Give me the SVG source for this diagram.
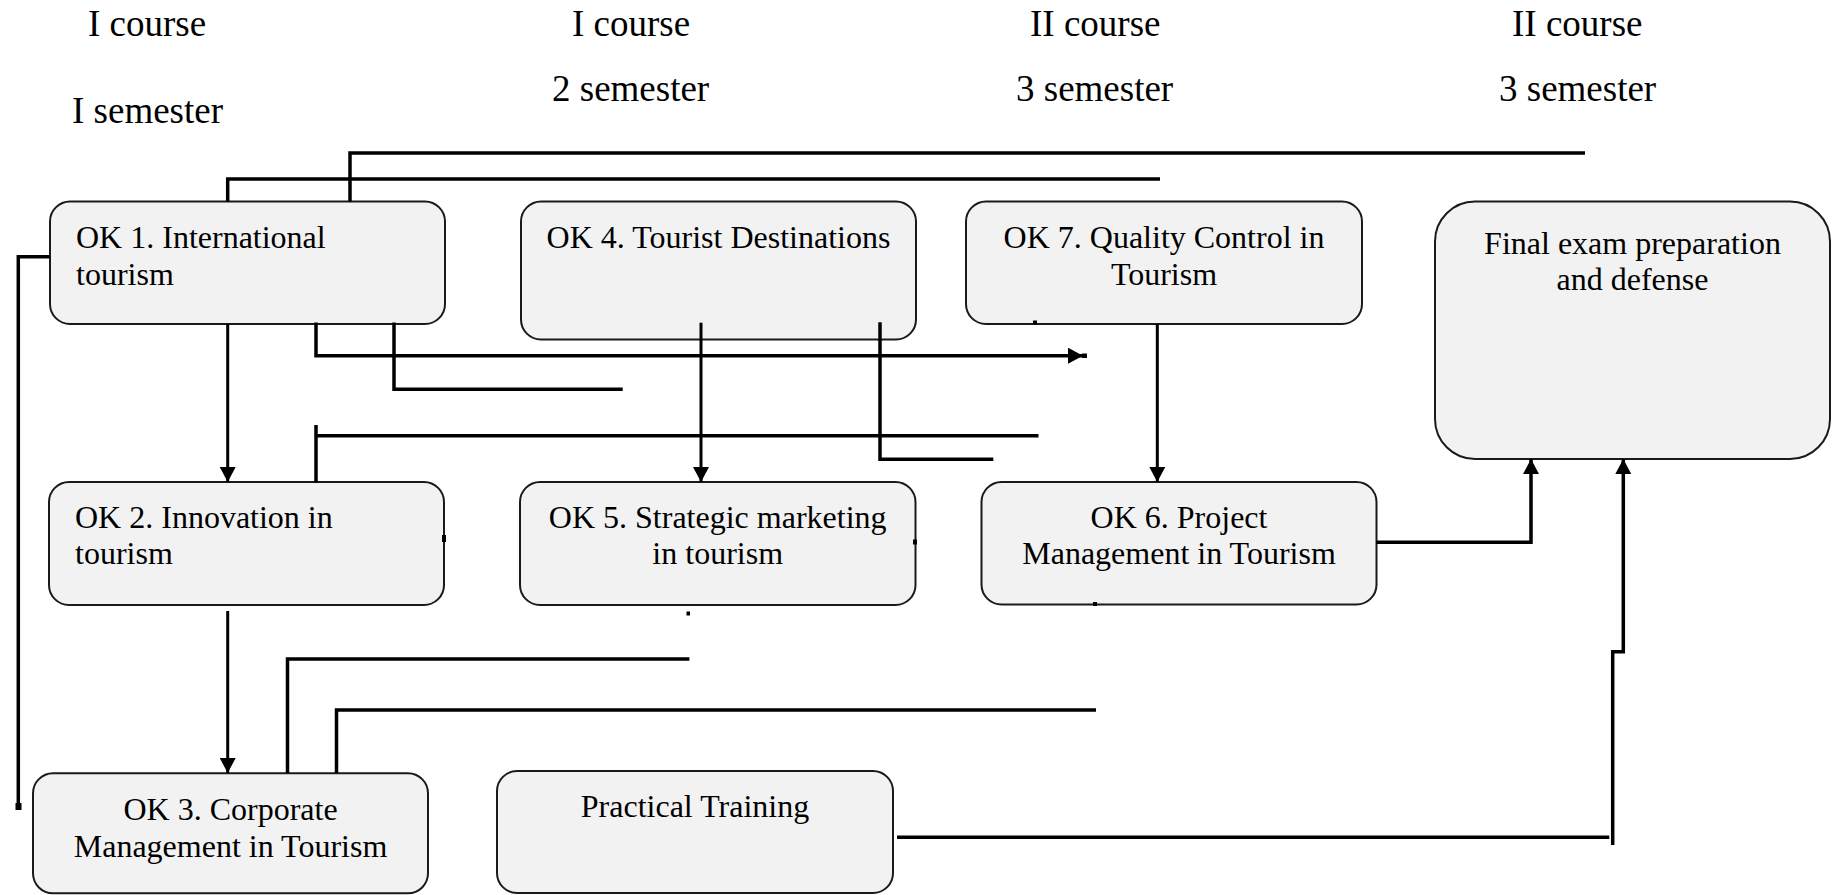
<svg xmlns="http://www.w3.org/2000/svg" width="1832" height="895" viewBox="0 0 1832 895">
<style>
.hd{font-family:"Liberation Serif","Times New Roman",serif;font-size:37px;fill:#000}
.tx{font-family:"Liberation Serif","Times New Roman",serif;font-size:32px;fill:#000}
.c{text-anchor:middle}
.box{fill:#f2f2f2;stroke:#1a1a1a;stroke-width:2}
.ln{fill:none;stroke:#000;stroke-width:3.5;stroke-linejoin:miter}
.ar{fill:none;stroke:#000;stroke-width:3;marker-end:url(#ah)}
.arh{fill:none;stroke:#000;stroke-width:3.5;stroke-linejoin:miter;marker-end:url(#ah)}
.tk{fill:#000}
</style>
<defs>
<marker id="ah" markerUnits="userSpaceOnUse" viewBox="0 0 15 16" refX="15" refY="8" markerWidth="15" markerHeight="16" orient="auto">
<path d="M0,0 L15,8 L0,16 z" fill="#000"/>
</marker>
</defs>
<rect width="1832" height="895" fill="#fff"/>
<g id="headers">
<text class="hd" x="88" y="36">I course</text>
<text class="hd" x="72" y="123">I semester</text>
<text class="hd" x="572" y="36">I course</text>
<text class="hd" x="552" y="101">2 semester</text>
<text class="hd" x="1030" y="36">II course</text>
<text class="hd" x="1016" y="101">3 semester</text>
<text class="hd" x="1512" y="36">II course</text>
<text class="hd" x="1499" y="101">3 semester</text>
</g>
<g id="ok1">
<rect class="box" x="50" y="201.5" width="395" height="122.5" rx="20"/>
<text class="tx" x="76" y="248.3">OK 1. International</text>
<text class="tx" x="76" y="285">tourism</text>
</g>
<g id="ok4">
<rect class="box" x="521" y="201.5" width="395" height="138" rx="20"/>
<text class="tx c" x="718.5" y="248.3">OK 4. Tourist Destinations</text>
</g>
<g id="ok7">
<rect class="box" x="966" y="201.5" width="396" height="122.5" rx="20"/>
<text class="tx c" x="1164" y="248.3">OK 7. Quality Control in</text>
<text class="tx c" x="1164" y="285">Tourism</text>
</g>
<g id="final">
<rect class="box" x="1435" y="201.5" width="395" height="257.5" rx="40"/>
<text class="tx c" x="1632.5" y="254">Final exam preparation</text>
<text class="tx c" x="1632.5" y="290">and defense</text>
</g>
<g id="ok2">
<rect class="box" x="49" y="482" width="395" height="123" rx="20"/>
<text class="tx" x="75" y="527.7">OK 2. Innovation in</text>
<text class="tx" x="75" y="564.3">tourism</text>
</g>
<g id="ok5">
<rect class="box" x="520" y="482" width="395.5" height="123" rx="20"/>
<text class="tx c" x="717.7" y="527.7">OK 5. Strategic marketing</text>
<text class="tx c" x="717.7" y="564.3">in tourism</text>
</g>
<g id="ok6">
<rect class="box" x="981.5" y="482" width="395" height="122.5" rx="20"/>
<text class="tx c" x="1179" y="527.7">OK 6. Project</text>
<text class="tx c" x="1179" y="564.3">Management in Tourism</text>
</g>
<g id="ok3">
<rect class="box" x="33" y="773.3" width="395" height="120" rx="20"/>
<text class="tx c" x="230.5" y="820">OK 3. Corporate</text>
<text class="tx c" x="230.5" y="856.7">Management in Tourism</text>
</g>
<g id="practical">
<rect class="box" x="497" y="771" width="396" height="122" rx="20"/>
<text class="tx c" x="695" y="816.7">Practical Training</text>
</g>
<g id="connectors">
<path class="ln" d="M350,201.5 V153 H1585"/>
<path class="ln" d="M227.7,201.5 V179 H1160"/>
<path class="ln" d="M50,256.7 H18.3 V810"/>
<rect class="tk" x="15.5" y="803" width="6" height="7"/>
<path class="ar" d="M227.7,324 V482"/>
<path class="arh" d="M316,322.5 V355.7 H1083"/>
<rect class="tk" x="1082" y="353.5" width="5" height="4.5"/>
<path class="ln" d="M394,322.5 V389.3 H622.7"/>
<path class="ln" d="M316,482.7 V425"/>
<path class="ln" d="M316,435.7 H1038.5"/>
<path class="ar" d="M701,322.7 V482"/>
<path class="ln" d="M880,322.3 V459.3 H993.3"/>
<path class="ar" d="M1157.3,324 V482"/>
<path class="arh" d="M1376,542.3 H1531 V459"/>
<path class="ln" d="M897,837.3 H1609.3"/>
<path class="arh" d="M1612.7,845 V651.7 H1623.3 V459"/>
<path class="ar" d="M227.7,611 V773"/>
<path class="ln" d="M287.5,773 V659 H689.4"/>
<path class="ln" d="M336.5,773 V710 H1096"/>
<rect class="tk" x="442" y="535" width="4" height="7"/>
<rect class="tk" x="913" y="539.5" width="4" height="5"/>
<rect class="tk" x="686.5" y="611.5" width="3.5" height="4"/>
<rect class="tk" x="1033" y="320.5" width="4" height="4"/>
<rect class="tk" x="1093" y="602" width="4" height="4"/>
</g>
</svg>
